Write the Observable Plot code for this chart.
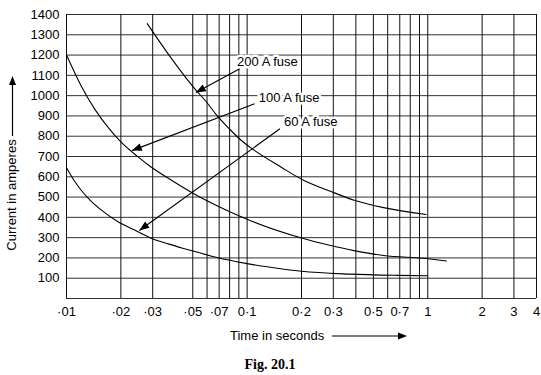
<!DOCTYPE html>
<html>
<head>
<meta charset="utf-8">
<script src="https://cdn.jsdelivr.net/npm/d3@7"></script>
<script src="https://cdn.jsdelivr.net/npm/@observablehq/plot@0.6"></script>
<style>
html, body { margin: 0; padding: 0; background: #fff; }
#chart svg { display: block; }
</style>
</head>
<body>
<div id="chart"></div>
<script>
// ---- data (time in seconds, current in amperes) ----
const fuse200Time = [0.028, 0.0366, 0.0512, 0.06, 0.0676, 0.08, 0.094, 0.104, 0.156, 0.2, 0.292, 0.396, 0.57, 0.98];
const fuse200Amps = [1355, 1205, 1035, 965, 905, 835, 775, 745, 645, 588, 527, 483, 448, 414];

const fuse100Time = [0.01, 0.0121, 0.0143, 0.0173, 0.02, 0.025, 0.029, 0.037, 0.051, 0.07, 0.094, 0.2, 0.29, 0.39, 0.57, 0.98, 1.27];
const fuse100Amps = [1200, 1045, 935, 835, 772, 697, 652, 590, 515, 452, 400, 298, 261, 236, 212, 197, 185];

const fuse60Time = [0.01, 0.011, 0.012, 0.0135, 0.016, 0.019, 0.024, 0.029, 0.037, 0.044, 0.052, 0.068, 0.1, 0.15, 0.2, 0.37, 0.68, 1.0];
const fuse60Amps = [645, 583, 536, 485, 428, 382, 336, 300, 268, 248, 230, 202, 172, 148, 134, 120, 114, 112];

// grid and tick values
const gridTimes = [0.01, 0.02, 0.03, 0.05, 0.06, 0.07, 0.08, 0.09, 0.1, 0.2, 0.3, 0.4, 0.5, 0.6, 0.7, 0.8, 0.9, 1, 2, 3, 4];
const tickTimes = [0.01, 0.02, 0.03, 0.05, 0.07, 0.1, 0.2, 0.3, 0.5, 0.7, 1, 2, 3, 4];
const tickLabels = ["·01", "·02", "·03", "·05", "·07", "0·1", "0·2", "0·3", "0·5", "0·7", "1", "2", "3", "4"];
const currentTicks = [100, 200, 300, 400, 500, 600, 700, 800, 900, 1000, 1100, 1200, 1300, 1400];

// annotations
const fuseLabels = ["200 A fuse", "100 A fuse", "60 A fuse"];
const labelTime = [0.088, 0.116, 0.160];
const labelAmps = [1167, 990, 872];
const arrowFromTime = [0.091, 0.11, 0.152];
const arrowFromAmps = [1133, 960, 837];
const arrowToTime = [0.052, 0.023, 0.0253];
const arrowToAmps = [1015, 729, 335];

const xTitle = "Time in seconds";
const yTitle = "Current in amperes";
const caption = "Fig. 20.1";

// ---- tables built from the arrays ----
const curves = [
  ...fuse200Time.map((t, i) => ({fuse: "200", t, a: fuse200Amps[i]})),
  ...fuse100Time.map((t, i) => ({fuse: "100", t, a: fuse100Amps[i]})),
  ...fuse60Time.map((t, i) => ({fuse: "60", t, a: fuse60Amps[i]}))
];
const notes = fuseLabels.map((label, i) => ({
  label, lt: labelTime[i], la: labelAmps[i],
  t1: arrowFromTime[i], a1: arrowFromAmps[i], t2: arrowToTime[i], a2: arrowToAmps[i]
}));
const xticks = tickTimes.map((t, i) => ({t, label: tickLabels[i]}));

function filledArrow(color, context) {
  return d3.create("svg:marker")
    .attr("viewBox", "-9 -3.5 9 7")
    .attr("markerWidth", 9)
    .attr("markerHeight", 7)
    .attr("orient", "auto")
    .attr("overflow", "visible")
    .attr("fill", color)
    .attr("stroke", "none")
    .call(m => m.append("path").attr("d", "M-9,-3.5L0,0L-9,3.5Z"))
    .node();
}

function decorations(index, scales, values, dims) {
  const {height, marginTop, marginBottom} = dims;
  const bottom = height - marginBottom;
  const g = d3.create("svg:g")
    .attr("font-family", "'Liberation Sans', Arial, Helvetica, sans-serif")
    .attr("font-size", 13)
    .attr("fill", "#000");
  // y title + arrow
  const yc = marginTop + 181;
  g.append("text")
    .attr("transform", `translate(16,${yc}) rotate(-90)`)
    .attr("text-anchor", "middle")
    .text(yTitle);
  g.append("line").attr("x1", 12.5).attr("x2", 12.5).attr("y1", yc - 59).attr("y2", yc - 112)
    .attr("stroke", "#000").attr("stroke-width", 1.2);
  g.append("path").attr("d", `M12.5,${yc - 119}L16,${yc - 110}L9,${yc - 110}Z`).attr("fill", "#000");
  // x title + arrow
  const xs = 230, yb = bottom + 42;
  g.append("text").attr("x", xs).attr("y", yb).attr("text-anchor", "start").text(xTitle);
  g.append("line").attr("x1", xs + 102).attr("x2", xs + 170).attr("y1", yb - 4).attr("y2", yb - 4)
    .attr("stroke", "#000").attr("stroke-width", 1.2);
  g.append("path").attr("d", `M${xs + 177},${yb - 4}L${xs + 168},${yb - 7.5}L${xs + 168},${yb - 0.5}Z`).attr("fill", "#000");
  // caption
  g.append("text")
    .attr("x", 270).attr("y", bottom + 71)
    .attr("text-anchor", "middle")
    .attr("font-family", "'Liberation Serif', 'Times New Roman', serif")
    .attr("font-weight", "bold")
    .attr("font-size", 14)
    .text(caption);
  return g.node();
}

function build(marker) {
  return Plot.plot({
    width: 541,
    height: 375,
    marginLeft: 66,
    marginRight: 5,
    marginTop: 14,
    marginBottom: 77,
    style: {fontFamily: "'Liberation Sans', Arial, Helvetica, sans-serif", fontSize: "13px", color: "#000", background: "#fff"},
    x: {type: "log", domain: [0.01, 4], axis: null},
    y: {domain: [0, 1400]},
    marks: [
      Plot.ruleY([0, ...currentTicks], {stroke: "#333", strokeWidth: 1}),
      Plot.ruleX(gridTimes, {stroke: "#111", strokeWidth: 1}),
      Plot.line(curves, {x: "t", y: "a", z: "fuse", curve: "monotone-x", stroke: "#000", strokeWidth: 1.1}),
      Plot.link(notes, {x1: "t1", y1: "a1", x2: "t2", y2: "a2", stroke: "#000", strokeWidth: 1.1, markerEnd: marker}),
      Plot.text(notes, {x: "lt", y: "la", text: "label", textAnchor: "start", fill: "#000", stroke: "#fff", strokeWidth: 5, fontSize: 13}),
      Plot.text(xticks, {x: "t", text: "label", frameAnchor: "bottom", lineAnchor: "middle", dy: 13, fill: "#000", fontSize: 13}),
      Plot.axisY(currentTicks, {tickSize: 0, tickPadding: 7, label: null, fontSize: 13, tickFormat: d => String(d)}),
      decorations
    ]
  });
}

let chart;
try { chart = build(filledArrow); } catch (e) { chart = build("arrow"); }
document.getElementById("chart").append(chart);
</script>
</body>
</html>
